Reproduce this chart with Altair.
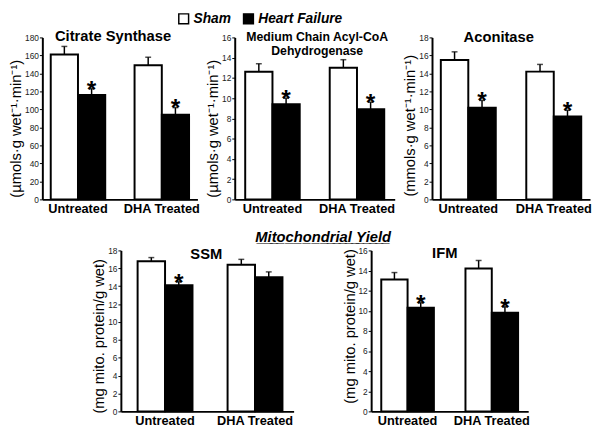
import altair as alt
import pandas as pd

# ---------------- data ----------------
groups = ["Untreated", "DHA Treated"]
conditions = ["Sham", "Heart Failure"]

cs_mean = [161, 116, 149, 94]
cs_upper = [170, 123, 158, 102]
cs_sig = [0, 1, 0, 1]

mcad_mean = [12.6, 9.4, 13.0, 8.9]
mcad_upper = [13.4, 10.0, 13.8, 9.6]
mcad_sig = [0, 1, 0, 1]

acon_mean = [15.5, 10.2, 14.2, 9.2]
acon_upper = [16.4, 11.0, 15.0, 9.9]
acon_sig = [0, 1, 0, 1]

ssm_mean = [16.8, 14.1, 16.4, 15.0]
ssm_upper = [17.2, 14.5, 17.0, 15.6]
ssm_sig = [0, 1, 0, 0]

ifm_mean = [13.1, 10.3, 14.2, 9.8]
ifm_upper = [13.8, 10.8, 15.0, 10.4]
ifm_sig = [0, 1, 0, 1]

FONT = "Liberation Sans"


def make_df(means, uppers, sig):
    rows = []
    i = 0
    for g in groups:
        for c in conditions:
            rows.append({"group": g, "condition": c, "mean": means[i],
                         "upper": uppers[i], "sig": sig[i]})
            i += 1
    return pd.DataFrame(rows)


legend = alt.Legend(
    title=None, orient="none", legendX=137, legendY=-26, direction="horizontal",
    symbolType="square", symbolSize=100, symbolStrokeColor="black",
    symbolStrokeWidth=1.5, labelFontSize=14, labelFontStyle="italic",
    labelFontWeight="bold", labelColor="black", labelFont=FONT,
    columnPadding=9, labelOffset=3,
)


def panel(title, title_size, title_offset, title_dx, ytitle, ytitle_shift,
          means, uppers, sig, ymax, step, width, height, pi, po, align=0.5,
          line_height=None):
    df = make_df(means, uppers, sig)
    base = alt.Chart(df).encode(
        x=alt.X("group:N", sort=groups,
                scale=alt.Scale(paddingInner=pi, paddingOuter=po, align=align),
                axis=alt.Axis(title=None, labelAngle=0, ticks=False,
                              labelFontSize=13, labelFontWeight="bold",
                              labelColor="black", labelFont=FONT, labelPadding=3,
                              domainColor="black", domainWidth=2)),
        xOffset=alt.XOffset("condition:N", sort=conditions,
                            scale=alt.Scale(paddingInner=0, paddingOuter=0)),
    )
    yscale = alt.Scale(domain=[0, ymax], nice=False)
    vals = list(range(0, ymax + 1, step))
    yaxis = alt.Axis(values=vals, title=ytitle, grid=False, labelOverlap=False,
                     titleFontSize=15, titleFontWeight="normal",
                     titleFont=FONT, titleColor="black", titlePadding=1,
                     titleY=height / 2 + ytitle_shift,
                     labelFontSize=8.5, labelColor="#222", labelFont=FONT,
                     labelPadding=1, tickSize=3, tickColor="black",
                     domainColor="black", domainWidth=2)
    bars = base.mark_bar(stroke="black", strokeWidth=2).encode(
        y=alt.Y("mean:Q", scale=yscale, axis=yaxis),
        fill=alt.Fill("condition:N",
                      scale=alt.Scale(domain=conditions, range=["white", "black"]),
                      legend=legend),
    )
    err = base.mark_rule(color="black", strokeWidth=1.5).encode(
        y=alt.Y("mean:Q", scale=yscale, axis=yaxis), y2="upper:Q")
    cap = base.mark_tick(color="black", size=6, thickness=1.5).encode(
        y=alt.Y("upper:Q", scale=yscale, axis=yaxis))
    star = base.transform_filter("datum.sig == 1").mark_text(
        text="*", fontSize=25, fontWeight="bold", font=FONT, color="black",
        baseline="alphabetic", dy=9).encode(
        y=alt.Y("upper:Q", scale=yscale, axis=yaxis))
    tp = dict(text=title, fontSize=title_size, fontWeight="bold", font=FONT,
              color="black", anchor="middle", frame="group", offset=title_offset,
              dx=title_dx, baseline="bottom")
    if line_height:
        tp["lineHeight"] = line_height
    return alt.layer(bars, err, cap, star).properties(
        width=width, height=height, title=alt.TitleParams(**tp))


H1 = 165
H2 = 164
p1 = panel("Citrate Synthase", 15, -26, -7, "(µmols·g wet⁻¹·min⁻¹)", 10,
           cs_mean, cs_upper, cs_sig, 180, 20, 158, H1, 0.35, 0.1)
p2 = panel(["Medium Chain Acyl-CoA", "Dehydrogenase"], 12.5, -37, 2.5,
           "(µmols·g wet⁻¹·min⁻¹)", 10, mcad_mean, mcad_upper, mcad_sig,
           16, 2, 163, H1, 0.355, 0.124, line_height=14)
p3 = panel("Aconitase", 15, -27, -12.5, "(mmols·g wet⁻¹·min⁻¹)", 7,
           acon_mean, acon_upper, acon_sig, 18, 2, 161, H1, 0.357, 0.103)
p4 = panel("SSM", 15, -31, -1, "(mg mito. protein/g wet)", 5,
           ssm_mean, ssm_upper, ssm_sig, 18, 2, 176, H2, 0.39, 0.155, align=0.6)
p5 = panel("IFM", 15, -30, -5, "(mg mito. protein/g wet)", -5,
           ifm_mean, ifm_upper, ifm_sig, 16, 2, 160, H2, 0.375, 0.12)

spacer = alt.Chart(pd.DataFrame({"s": [0]})).mark_point(opacity=0).encode(
    x=alt.value(0), y=alt.value(0)).properties(width=1, height=H2)

res = dict(x="independent", y="independent", xOffset="independent")

row1 = alt.hconcat(p1, p2, p3, spacing=38, bounds="flush").resolve_scale(**res)
row2 = alt.hconcat(spacer, p4, p5, spacing=79, bounds="flush").properties(
    title=alt.TitleParams("M̲i̲t̲o̲c̲h̲o̲n̲d̲r̲i̲a̲l̲ ̲Y̲i̲e̲l̲d̲", fontSize=15,
                          fontWeight="bold", fontStyle="italic", font=FONT,
                          color="black", anchor="start", frame="group",
                          dx=217, offset=2)
).resolve_scale(**res)

chart = alt.vconcat(row1, row2, spacing=15).resolve_scale(**res).configure_view(
    stroke=None).configure_axisY(labelOverlap=False).properties(padding=0)

chart.save("out.html", embed_options={"renderer": "svg", "actions": False})
